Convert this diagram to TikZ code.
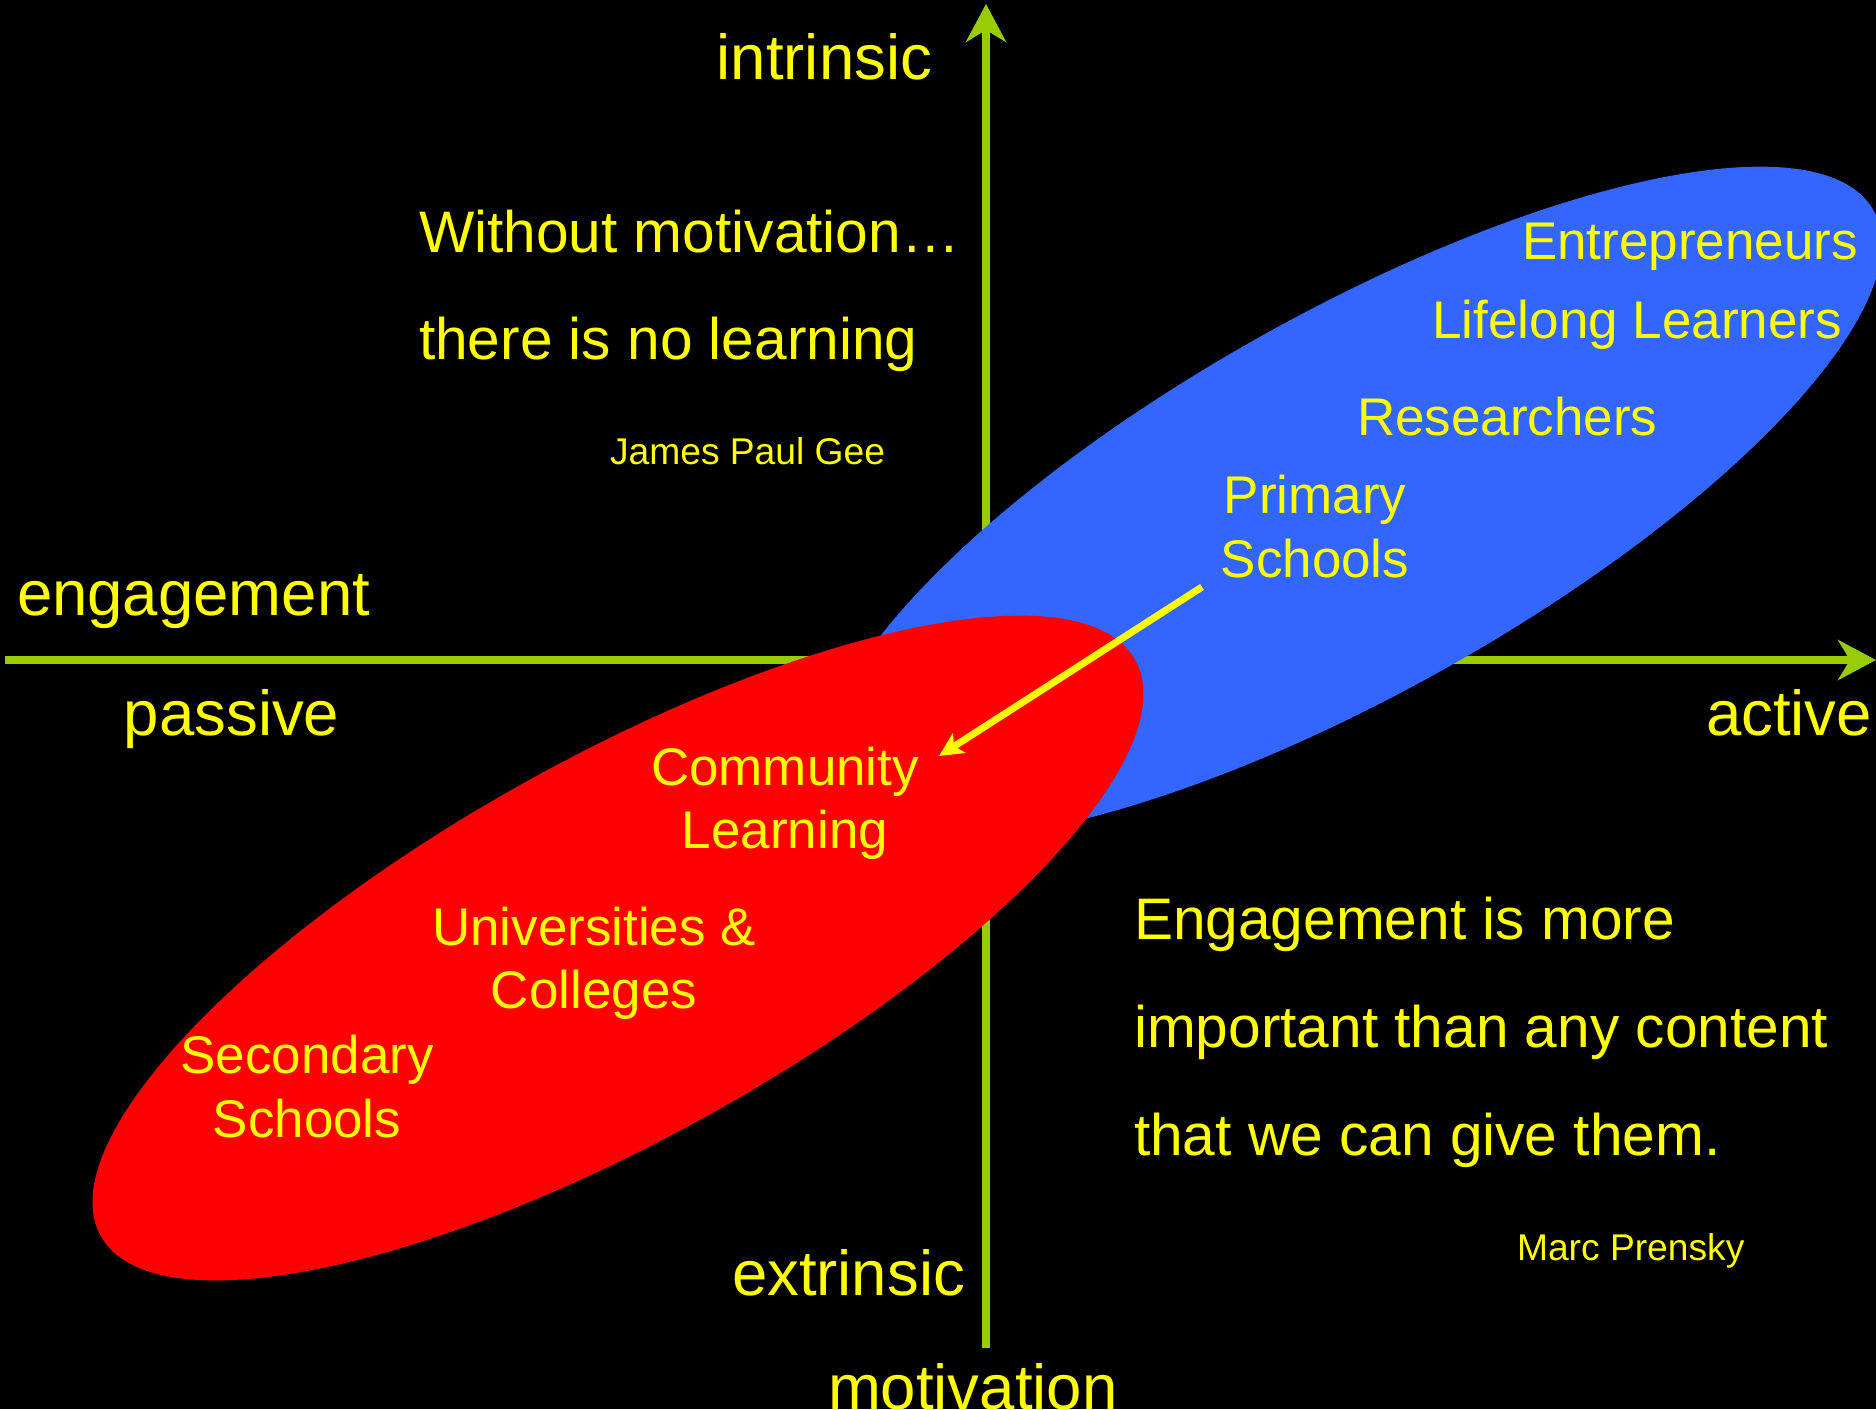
\documentclass[tikz,border=0pt]{standalone}
\usepackage{fontspec}
\setmainfont{Liberation Sans}
\usetikzlibrary{arrows.meta}
\definecolor{axisgreen}{HTML}{99CC00}
\definecolor{txtyellow}{HTML}{FFFF00}
\definecolor{blueell}{HTML}{3366FF}
\definecolor{redell}{HTML}{FF0000}
\tikzset{
  axisline/.style={draw=axisgreen, line width=2.3pt, -{Stealth[length=10.8pt,width=11.4pt,inset=3.4pt]}},
  yarrow/.style={draw=txtyellow, line width=2pt, -{Stealth[length=6.8pt,width=6.6pt,inset=1.7pt]}},
  txt/.style={text=txtyellow, inner sep=0pt, outer sep=0pt},
  bigtxt/.style={txt, font=\fontsize{18.07pt}{21pt}\selectfont},
  quotetxt/.style={txt, font=\fontsize{16.68pt}{20pt}\selectfont},
  lbltxt/.style={txt, font=\fontsize{15.08pt}{18pt}\selectfont},
  attribtxt/.style={txt, font=\fontsize{10.59pt}{13pt}\selectfont},
}
\begin{document}
\begin{tikzpicture}[x=0.1mm, y=-0.1mm]
  \useasboundingbox (0,0) rectangle (1876,1409);
  \fill[black] (0,0) rectangle (1876,1409);

  % axes
  \coordinate (vbot) at (986,1348);
  \coordinate (vtop) at (986,4);
  \coordinate (hleft) at (5,660);
  \coordinate (hright) at (1876,660);
  \draw[axisline] (vbot) -- (vtop);
  \draw[axisline] (hleft) -- (hright);

  % ellipses
  \fill[blueell, rotate around={29.3:(1352,503)}] (1352,503) ellipse [x radius=59.8mm, y radius=19mm];
  \fill[redell, rotate around={29.1:(618,948)}] (618,948) ellipse [x radius=59.2mm, y radius=19mm];

  % axis labels
  \node[bigtxt, anchor=base east] (intr) at (932,79) {intrinsic};
  \node[bigtxt, anchor=base west] (eng) at (17,615) {engagement};
  \node[bigtxt, anchor=base west] (pass) at (124,735) {passive};
  \node[bigtxt, anchor=base east] (act) at (1872,735) {active};
  \node[bigtxt, anchor=base west] (extr) at (732,1295) {extrinsic};
  \node[bigtxt, anchor=base west] (motiv) at (828,1409) {motivation};

  % quotes
  \node[quotetxt, anchor=base west] (q1) at (419,252) {Without motivation…};
  \node[quotetxt, anchor=base west] (q2) at (419,359) {there is no learning};
  \node[attribtxt, anchor=base west] (gee) at (610,464) {James Paul Gee};
  \node[quotetxt, anchor=base west] (q3) at (1134,939) {Engagement is more};
  \node[quotetxt, anchor=base west] (q4) at (1134,1047) {important than any content};
  \node[quotetxt, anchor=base west] (q5) at (1134,1155) {that we can give them.};
  \node[attribtxt, anchor=base west] (prensky) at (1517,1260) {Marc Prensky};

  % ellipse labels
  \node[lbltxt, anchor=base east] (entr) at (1858,259) {Entrepreneurs};
  \node[lbltxt, anchor=base east] (life) at (1842,338) {Lifelong Learners};
  \node[lbltxt, anchor=base west] (res) at (1357,435) {Researchers};
  \node[lbltxt, anchor=base] (prim1) at (1315,513) {Primary};
  \node[lbltxt, anchor=base] (prim2) at (1315,577) {Schools};
  \node[lbltxt, anchor=base] (comm1) at (785,785) {Community};
  \node[lbltxt, anchor=base] (comm2) at (785,848) {Learning};
  \node[lbltxt, anchor=base] (uni1) at (594,945) {Universities \&};
  \node[lbltxt, anchor=base] (uni2) at (594,1008) {Colleges};
  \node[lbltxt, anchor=base] (sec1) at (307,1073) {Secondary};
  \node[lbltxt, anchor=base] (sec2) at (307,1137) {Schools};

  % arrow from Primary Schools to Community Learning
  \coordinate (arrS) at (1202,587);
  \coordinate (arrE) at (939,756);
  \draw[yarrow] (arrS) -- (arrE);
\end{tikzpicture}
\end{document}
